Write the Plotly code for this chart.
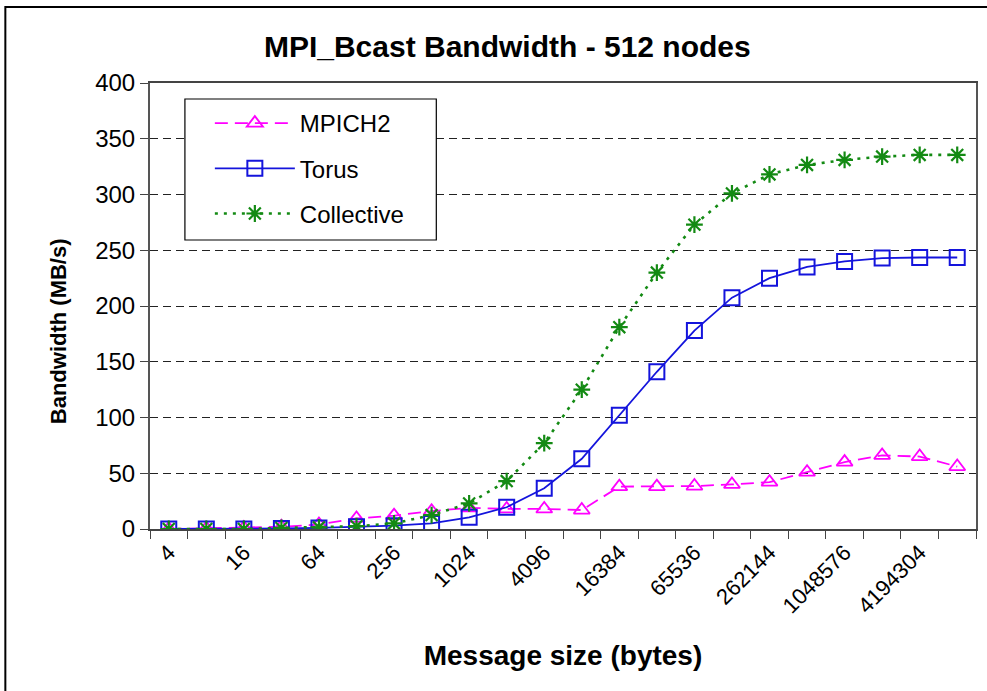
import plotly.graph_objects as go

sizes = ["4", "8", "16", "32", "64", "128", "256", "512", "1024", "2048", "4096",
         "8192", "16384", "32768", "65536", "131072", "262144", "524288",
         "1048576", "2097152", "4194304", "8388608"]
label_every = ["4", "16", "64", "256", "1024", "4096", "16384", "65536",
               "262144", "1048576", "4194304"]

mpich2 = [0, 0.5, 1, 2, 4, 9.5, 12, 16, 19, 18, 18, 17, 38, 38, 38.5, 40, 42,
          51, 60, 66, 65, 56]
torus = [0, 0, 0, 0.5, 1, 2, 3, 5, 10.5, 19.5, 36.5, 63, 102, 141, 178, 207.5,
         225, 235, 240, 243, 243.5, 243.5]
collective = [0, 0, 0, 1, 1.5, 2.5, 5, 12.5, 23, 43, 77, 125, 181, 230, 273,
              301, 318, 326.5, 331, 334, 335.5, 335.5]

FONT = "Liberation Sans, Arial, Helvetica, sans-serif"

# plot area in pixels: x 150..978, y 83..529
def px_x(p):
    return (p - 150) / 828

def px_y(p):
    return (529 - p) / 446

fig = go.Figure()
fig.add_trace(go.Scatter(
    x=sizes, y=mpich2, name="MPICH2", mode="lines+markers", legendgroup="a",
    line=dict(color="#FF00FF", width=1.8, dash="13px,7px"),
    marker=dict(symbol="triangle-up-open", size=14, color="#FF00FF",
                line=dict(width=1.8, color="#FF00FF"))))
fig.add_trace(go.Scatter(
    x=sizes, y=torus, name="Torus", mode="lines+markers", legendgroup="b",
    line=dict(color="#1414DC", width=1.8),
    marker=dict(symbol="square-open", size=15, color="#1414DC",
                line=dict(width=2, color="#1414DC"))))
fig.add_trace(go.Scatter(
    x=sizes, y=collective, name="Collective", mode="lines+markers", legendgroup="c",
    line=dict(color="#138A13", width=2.6, dash="3px,6px"),
    marker=dict(symbol="asterisk-open", size=14, color="#138A13",
                line=dict(width=2.2, color="#138A13"))))

ticktext = [s if s in label_every else "" for s in sizes]

fig.update_layout(
    width=987, height=691,
    margin=dict(l=150, r=9, t=83, b=162),
    paper_bgcolor="white", plot_bgcolor="white",
    font=dict(family=FONT, color="black", size=22),
    title=dict(text="MPI_Bcast Bandwidth - 512 nodes", x=0.514, xref="container",
               xanchor="center", y=1 - 46 / 691, yref="container", yanchor="middle",
               font=dict(family=FONT, size=30, weight="bold", color="black")),
    showlegend=True,
    legend=dict(x=px_x(210), y=px_y(101), xanchor="left", yanchor="top",
                bgcolor="rgba(255,255,255,0)", borderwidth=0,
                font=dict(family=FONT, size=24, color="black"),
                itemwidth=80, tracegroupgap=11, traceorder="grouped"),
    xaxis=dict(
        type="category", tickmode="array", tickvals=sizes, ticktext=ticktext,
        range=[-0.5, len(sizes) - 0.5], autorange=False,
        tickson="boundaries", ticks="outside", ticklen=8, tickcolor="#444",
        tickangle=-45, tickfont=dict(family=FONT, size=22, color="black"),
        showline=True, linecolor="#444", linewidth=2, mirror=True,
        showgrid=False, zeroline=False,
        title=dict(text="Message size (bytes)", standoff=28,
                   font=dict(family=FONT, size=28, weight="bold", color="black")),
    ),
    yaxis=dict(
        range=[0, 400], dtick=50, tick0=0, ticks="outside", ticklen=8,
        tickcolor="#444", tickfont=dict(family=FONT, size=24, color="black"),
        showline=True, linecolor="#555", linewidth=2, mirror=True,
        showgrid=True, gridcolor="#222", griddash="8px,5px", gridwidth=1.2,
        zeroline=False,
    ),
)

# y-axis title (placed like the original, slightly below the plot centre)
fig.add_annotation(text="<b>Bandwidth (MB/s)</b>", xref="paper", yref="paper",
                   x=px_x(58), y=px_y(331), xanchor="center", yanchor="middle",
                   textangle=-90, showarrow=False,
                   font=dict(family=FONT, size=22, color="black"))

# legend box
fig.add_shape(type="rect", xref="paper", yref="paper",
              x0=px_x(185), x1=px_x(437), y0=px_y(240), y1=px_y(99),
              line=dict(color="black", width=1.2), fillcolor="white",
              layer="above")

# outer frame of the original chart area
fig.add_shape(type="rect", xref="paper", yref="paper",
              x0=px_x(5), x1=1.2, y0=-0.6, y1=px_y(7),
              line=dict(color="black", width=2), fillcolor="rgba(0,0,0,0)",
              layer="above")

fig.write_html("out.html", config={"displayModeBar": False},
               post_script="document.body.style.margin='0';")
